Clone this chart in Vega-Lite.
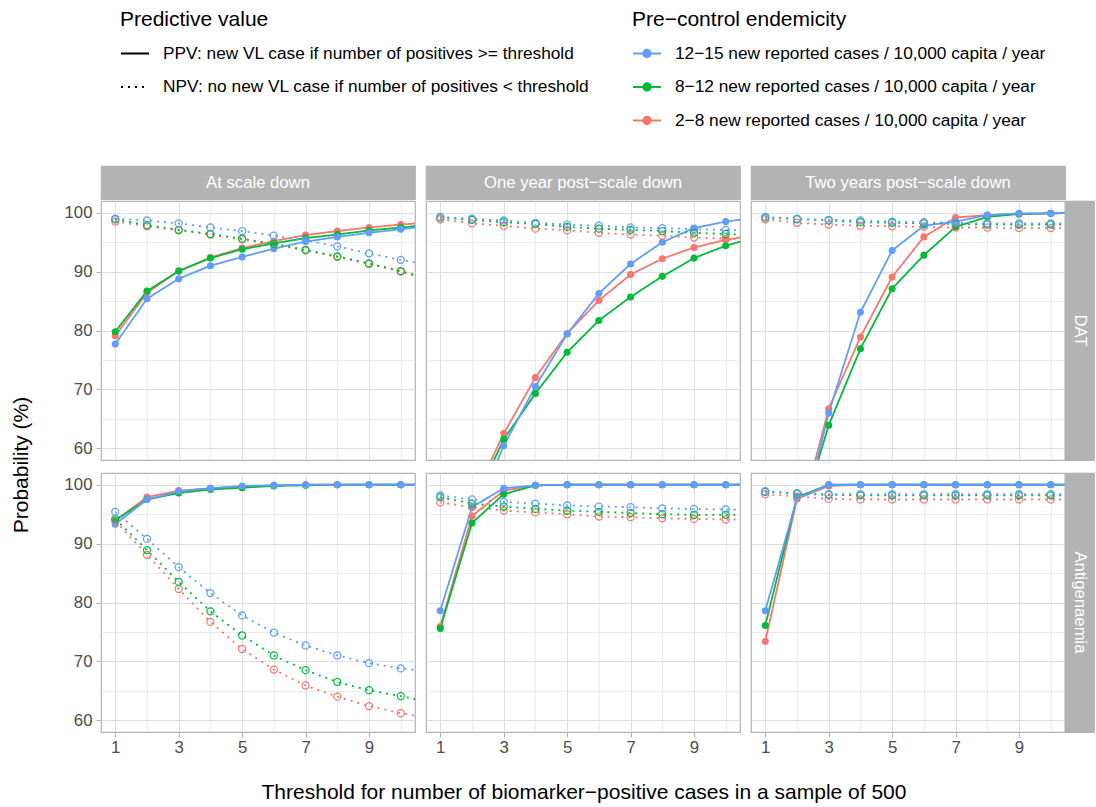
{
"$schema": "https://vega.github.io/schema/vega-lite/v6.json",
"padding": {"left": 11, "top": 9, "right": 0, "bottom": 0},
"datasets": {
"endem": [{"e":"a","E":"12−15 new reported cases / 10,000 capita / year"},{"e":"b","E":"8−12 new reported cases / 10,000 capita / year"},{"e":"c","E":"2−8 new reported cases / 10,000 capita / year"}],
"meas": [{"m":"P","M":"PPV: new VL case if number of positives >= threshold"},{"m":"N","M":"NPV: no new VL case if number of positives < threshold"}],
"strips": [{"k":"c1","s":"At scale down"},{"k":"c2","s":"One year post−scale down"},{"k":"c3","s":"Two years post−scale down"},{"k":"r1","s":"DAT"},{"k":"r2","s":"Antigenaemia"},{"k":"yt","s":"Probability (%)"},{"k":"xt","s":"Threshold for number of biomarker−positive cases in a sample of 500"}],
"main": [
{"r":"D","c":1,"e":"c","m":"P","t":1,"p":79.1},{"r":"D","c":1,"e":"c","m":"P","t":2,"p":86.4},{"r":"D","c":1,"e":"c","m":"P","t":3,"p":90.1},{"r":"D","c":1,"e":"c","m":"P","t":4,"p":92.4},{"r":"D","c":1,"e":"c","m":"P","t":5,"p":94.0},{"r":"D","c":1,"e":"c","m":"P","t":6,"p":95.2},{"r":"D","c":1,"e":"c","m":"P","t":7,"p":96.2},{"r":"D","c":1,"e":"c","m":"P","t":8,"p":96.9},{"r":"D","c":1,"e":"c","m":"P","t":9,"p":97.5},{"r":"D","c":1,"e":"c","m":"P","t":10,"p":98.0},{"r":"D","c":1,"e":"c","m":"P","t":11,"p":98.4},
{"r":"D","c":1,"e":"b","m":"P","t":1,"p":79.8},{"r":"D","c":1,"e":"b","m":"P","t":2,"p":86.7},{"r":"D","c":1,"e":"b","m":"P","t":3,"p":90.1},{"r":"D","c":1,"e":"b","m":"P","t":4,"p":92.3},{"r":"D","c":1,"e":"b","m":"P","t":5,"p":93.8},{"r":"D","c":1,"e":"b","m":"P","t":6,"p":94.8},{"r":"D","c":1,"e":"b","m":"P","t":7,"p":95.7},{"r":"D","c":1,"e":"b","m":"P","t":8,"p":96.3},{"r":"D","c":1,"e":"b","m":"P","t":9,"p":97.0},{"r":"D","c":1,"e":"b","m":"P","t":10,"p":97.5},{"r":"D","c":1,"e":"b","m":"P","t":11,"p":98.0},
{"r":"D","c":1,"e":"a","m":"P","t":1,"p":77.7},{"r":"D","c":1,"e":"a","m":"P","t":2,"p":85.4},{"r":"D","c":1,"e":"a","m":"P","t":3,"p":88.8},{"r":"D","c":1,"e":"a","m":"P","t":4,"p":91.0},{"r":"D","c":1,"e":"a","m":"P","t":5,"p":92.5},{"r":"D","c":1,"e":"a","m":"P","t":6,"p":93.9},{"r":"D","c":1,"e":"a","m":"P","t":7,"p":95.1},{"r":"D","c":1,"e":"a","m":"P","t":8,"p":95.9},{"r":"D","c":1,"e":"a","m":"P","t":9,"p":96.6},{"r":"D","c":1,"e":"a","m":"P","t":10,"p":97.2},{"r":"D","c":1,"e":"a","m":"P","t":11,"p":97.8},
{"r":"D","c":1,"e":"c","m":"N","t":1,"p":98.5},{"r":"D","c":1,"e":"c","m":"N","t":2,"p":97.7},{"r":"D","c":1,"e":"c","m":"N","t":3,"p":97.0},{"r":"D","c":1,"e":"c","m":"N","t":4,"p":96.3},{"r":"D","c":1,"e":"c","m":"N","t":5,"p":95.5},{"r":"D","c":1,"e":"c","m":"N","t":6,"p":94.6},{"r":"D","c":1,"e":"c","m":"N","t":7,"p":93.6},{"r":"D","c":1,"e":"c","m":"N","t":8,"p":92.5},{"r":"D","c":1,"e":"c","m":"N","t":9,"p":91.3},{"r":"D","c":1,"e":"c","m":"N","t":10,"p":90.0},{"r":"D","c":1,"e":"c","m":"N","t":11,"p":88.4},
{"r":"D","c":1,"e":"b","m":"N","t":1,"p":98.9},{"r":"D","c":1,"e":"b","m":"N","t":2,"p":97.9},{"r":"D","c":1,"e":"b","m":"N","t":3,"p":97.1},{"r":"D","c":1,"e":"b","m":"N","t":4,"p":96.4},{"r":"D","c":1,"e":"b","m":"N","t":5,"p":95.6},{"r":"D","c":1,"e":"b","m":"N","t":6,"p":94.7},{"r":"D","c":1,"e":"b","m":"N","t":7,"p":93.7},{"r":"D","c":1,"e":"b","m":"N","t":8,"p":92.6},{"r":"D","c":1,"e":"b","m":"N","t":9,"p":91.4},{"r":"D","c":1,"e":"b","m":"N","t":10,"p":90.1},{"r":"D","c":1,"e":"b","m":"N","t":11,"p":88.6},
{"r":"D","c":1,"e":"a","m":"N","t":1,"p":99.0},{"r":"D","c":1,"e":"a","m":"N","t":2,"p":98.7},{"r":"D","c":1,"e":"a","m":"N","t":3,"p":98.2},{"r":"D","c":1,"e":"a","m":"N","t":4,"p":97.5},{"r":"D","c":1,"e":"a","m":"N","t":5,"p":96.9},{"r":"D","c":1,"e":"a","m":"N","t":6,"p":96.1},{"r":"D","c":1,"e":"a","m":"N","t":7,"p":95.3},{"r":"D","c":1,"e":"a","m":"N","t":8,"p":94.3},{"r":"D","c":1,"e":"a","m":"N","t":9,"p":93.1},{"r":"D","c":1,"e":"a","m":"N","t":10,"p":92.0},{"r":"D","c":1,"e":"a","m":"N","t":11,"p":91.0},
{"r":"D","c":2,"e":"c","m":"P","t":1,"p":30},{"r":"D","c":2,"e":"c","m":"P","t":2,"p":51},{"r":"D","c":2,"e":"c","m":"P","t":3,"p":62.5},{"r":"D","c":2,"e":"c","m":"P","t":4,"p":72.0},{"r":"D","c":2,"e":"c","m":"P","t":5,"p":79.5},{"r":"D","c":2,"e":"c","m":"P","t":6,"p":85.1},{"r":"D","c":2,"e":"c","m":"P","t":7,"p":89.5},{"r":"D","c":2,"e":"c","m":"P","t":8,"p":92.2},{"r":"D","c":2,"e":"c","m":"P","t":9,"p":94.1},{"r":"D","c":2,"e":"c","m":"P","t":10,"p":95.4},{"r":"D","c":2,"e":"c","m":"P","t":11,"p":96.3},
{"r":"D","c":2,"e":"b","m":"P","t":1,"p":28},{"r":"D","c":2,"e":"b","m":"P","t":2,"p":50},{"r":"D","c":2,"e":"b","m":"P","t":3,"p":61.5},{"r":"D","c":2,"e":"b","m":"P","t":4,"p":69.3},{"r":"D","c":2,"e":"b","m":"P","t":5,"p":76.3},{"r":"D","c":2,"e":"b","m":"P","t":6,"p":81.7},{"r":"D","c":2,"e":"b","m":"P","t":7,"p":85.7},{"r":"D","c":2,"e":"b","m":"P","t":8,"p":89.2},{"r":"D","c":2,"e":"b","m":"P","t":9,"p":92.3},{"r":"D","c":2,"e":"b","m":"P","t":10,"p":94.4},{"r":"D","c":2,"e":"b","m":"P","t":11,"p":95.9},
{"r":"D","c":2,"e":"a","m":"P","t":1,"p":25},{"r":"D","c":2,"e":"a","m":"P","t":2,"p":48},{"r":"D","c":2,"e":"a","m":"P","t":3,"p":60.4},{"r":"D","c":2,"e":"a","m":"P","t":4,"p":70.5},{"r":"D","c":2,"e":"a","m":"P","t":5,"p":79.4},{"r":"D","c":2,"e":"a","m":"P","t":6,"p":86.3},{"r":"D","c":2,"e":"a","m":"P","t":7,"p":91.3},{"r":"D","c":2,"e":"a","m":"P","t":8,"p":95.0},{"r":"D","c":2,"e":"a","m":"P","t":9,"p":97.4},{"r":"D","c":2,"e":"a","m":"P","t":10,"p":98.5},{"r":"D","c":2,"e":"a","m":"P","t":11,"p":99.2},
{"r":"D","c":2,"e":"c","m":"N","t":1,"p":98.9},{"r":"D","c":2,"e":"c","m":"N","t":2,"p":98.2},{"r":"D","c":2,"e":"c","m":"N","t":3,"p":97.8},{"r":"D","c":2,"e":"c","m":"N","t":4,"p":97.3},{"r":"D","c":2,"e":"c","m":"N","t":5,"p":97.0},{"r":"D","c":2,"e":"c","m":"N","t":6,"p":96.6},{"r":"D","c":2,"e":"c","m":"N","t":7,"p":96.3},{"r":"D","c":2,"e":"c","m":"N","t":8,"p":96.1},{"r":"D","c":2,"e":"c","m":"N","t":9,"p":95.8},{"r":"D","c":2,"e":"c","m":"N","t":10,"p":95.6},{"r":"D","c":2,"e":"c","m":"N","t":11,"p":95.4},
{"r":"D","c":2,"e":"b","m":"N","t":1,"p":99.2},{"r":"D","c":2,"e":"b","m":"N","t":2,"p":98.8},{"r":"D","c":2,"e":"b","m":"N","t":3,"p":98.4},{"r":"D","c":2,"e":"b","m":"N","t":4,"p":98.1},{"r":"D","c":2,"e":"b","m":"N","t":5,"p":97.6},{"r":"D","c":2,"e":"b","m":"N","t":6,"p":97.3},{"r":"D","c":2,"e":"b","m":"N","t":7,"p":97.1},{"r":"D","c":2,"e":"b","m":"N","t":8,"p":96.9},{"r":"D","c":2,"e":"b","m":"N","t":9,"p":96.6},{"r":"D","c":2,"e":"b","m":"N","t":10,"p":96.4},{"r":"D","c":2,"e":"b","m":"N","t":11,"p":96.2},
{"r":"D","c":2,"e":"a","m":"N","t":1,"p":99.3},{"r":"D","c":2,"e":"a","m":"N","t":2,"p":99.0},{"r":"D","c":2,"e":"a","m":"N","t":3,"p":98.7},{"r":"D","c":2,"e":"a","m":"N","t":4,"p":98.3},{"r":"D","c":2,"e":"a","m":"N","t":5,"p":98.0},{"r":"D","c":2,"e":"a","m":"N","t":6,"p":97.8},{"r":"D","c":2,"e":"a","m":"N","t":7,"p":97.5},{"r":"D","c":2,"e":"a","m":"N","t":8,"p":97.4},{"r":"D","c":2,"e":"a","m":"N","t":9,"p":97.2},{"r":"D","c":2,"e":"a","m":"N","t":10,"p":97.1},{"r":"D","c":2,"e":"a","m":"N","t":11,"p":96.9},
{"r":"D","c":3,"e":"c","m":"P","t":1,"p":22},{"r":"D","c":3,"e":"c","m":"P","t":2,"p":46},{"r":"D","c":3,"e":"c","m":"P","t":3,"p":66.7},{"r":"D","c":3,"e":"c","m":"P","t":4,"p":78.9},{"r":"D","c":3,"e":"c","m":"P","t":5,"p":89.1},{"r":"D","c":3,"e":"c","m":"P","t":6,"p":95.9},{"r":"D","c":3,"e":"c","m":"P","t":7,"p":99.2},{"r":"D","c":3,"e":"c","m":"P","t":8,"p":99.6},{"r":"D","c":3,"e":"c","m":"P","t":9,"p":99.8},{"r":"D","c":3,"e":"c","m":"P","t":10,"p":99.9},{"r":"D","c":3,"e":"c","m":"P","t":11,"p":100},
{"r":"D","c":3,"e":"b","m":"P","t":1,"p":22},{"r":"D","c":3,"e":"b","m":"P","t":2,"p":46},{"r":"D","c":3,"e":"b","m":"P","t":3,"p":63.9},{"r":"D","c":3,"e":"b","m":"P","t":4,"p":76.9},{"r":"D","c":3,"e":"b","m":"P","t":5,"p":87.1},{"r":"D","c":3,"e":"b","m":"P","t":6,"p":92.8},{"r":"D","c":3,"e":"b","m":"P","t":7,"p":97.6},{"r":"D","c":3,"e":"b","m":"P","t":8,"p":99.3},{"r":"D","c":3,"e":"b","m":"P","t":9,"p":99.8},{"r":"D","c":3,"e":"b","m":"P","t":10,"p":99.9},{"r":"D","c":3,"e":"b","m":"P","t":11,"p":100},
{"r":"D","c":3,"e":"a","m":"P","t":1,"p":20},{"r":"D","c":3,"e":"a","m":"P","t":2,"p":44},{"r":"D","c":3,"e":"a","m":"P","t":3,"p":66.0},{"r":"D","c":3,"e":"a","m":"P","t":4,"p":83.1},{"r":"D","c":3,"e":"a","m":"P","t":5,"p":93.6},{"r":"D","c":3,"e":"a","m":"P","t":6,"p":97.8},{"r":"D","c":3,"e":"a","m":"P","t":7,"p":98.5},{"r":"D","c":3,"e":"a","m":"P","t":8,"p":99.6},{"r":"D","c":3,"e":"a","m":"P","t":9,"p":99.9},{"r":"D","c":3,"e":"a","m":"P","t":10,"p":99.9},{"r":"D","c":3,"e":"a","m":"P","t":11,"p":100},
{"r":"D","c":3,"e":"c","m":"N","t":1,"p":98.9},{"r":"D","c":3,"e":"c","m":"N","t":2,"p":98.3},{"r":"D","c":3,"e":"c","m":"N","t":3,"p":98.0},{"r":"D","c":3,"e":"c","m":"N","t":4,"p":97.8},{"r":"D","c":3,"e":"c","m":"N","t":5,"p":97.7},{"r":"D","c":3,"e":"c","m":"N","t":6,"p":97.6},{"r":"D","c":3,"e":"c","m":"N","t":7,"p":97.5},{"r":"D","c":3,"e":"c","m":"N","t":8,"p":97.5},{"r":"D","c":3,"e":"c","m":"N","t":9,"p":97.4},{"r":"D","c":3,"e":"c","m":"N","t":10,"p":97.4},{"r":"D","c":3,"e":"c","m":"N","t":11,"p":97.4},
{"r":"D","c":3,"e":"b","m":"N","t":1,"p":99.2},{"r":"D","c":3,"e":"b","m":"N","t":2,"p":98.9},{"r":"D","c":3,"e":"b","m":"N","t":3,"p":98.7},{"r":"D","c":3,"e":"b","m":"N","t":4,"p":98.4},{"r":"D","c":3,"e":"b","m":"N","t":5,"p":98.3},{"r":"D","c":3,"e":"b","m":"N","t":6,"p":98.2},{"r":"D","c":3,"e":"b","m":"N","t":7,"p":98.1},{"r":"D","c":3,"e":"b","m":"N","t":8,"p":98.0},{"r":"D","c":3,"e":"b","m":"N","t":9,"p":98.0},{"r":"D","c":3,"e":"b","m":"N","t":10,"p":98.0},{"r":"D","c":3,"e":"b","m":"N","t":11,"p":98.0},
{"r":"D","c":3,"e":"a","m":"N","t":1,"p":99.3},{"r":"D","c":3,"e":"a","m":"N","t":2,"p":99.0},{"r":"D","c":3,"e":"a","m":"N","t":3,"p":98.8},{"r":"D","c":3,"e":"a","m":"N","t":4,"p":98.7},{"r":"D","c":3,"e":"a","m":"N","t":5,"p":98.5},{"r":"D","c":3,"e":"a","m":"N","t":6,"p":98.4},{"r":"D","c":3,"e":"a","m":"N","t":7,"p":98.3},{"r":"D","c":3,"e":"a","m":"N","t":8,"p":98.2},{"r":"D","c":3,"e":"a","m":"N","t":9,"p":98.2},{"r":"D","c":3,"e":"a","m":"N","t":10,"p":98.2},{"r":"D","c":3,"e":"a","m":"N","t":11,"p":98.2},
{"r":"A","c":1,"e":"c","m":"P","t":1,"p":93.9},{"r":"A","c":1,"e":"c","m":"P","t":2,"p":97.9},{"r":"A","c":1,"e":"c","m":"P","t":3,"p":99.0},{"r":"A","c":1,"e":"c","m":"P","t":4,"p":99.4},{"r":"A","c":1,"e":"c","m":"P","t":5,"p":99.7},{"r":"A","c":1,"e":"c","m":"P","t":6,"p":99.9},{"r":"A","c":1,"e":"c","m":"P","t":7,"p":100},{"r":"A","c":1,"e":"c","m":"P","t":8,"p":100},{"r":"A","c":1,"e":"c","m":"P","t":9,"p":100},{"r":"A","c":1,"e":"c","m":"P","t":10,"p":100},{"r":"A","c":1,"e":"c","m":"P","t":11,"p":100},
{"r":"A","c":1,"e":"b","m":"P","t":1,"p":94.0},{"r":"A","c":1,"e":"b","m":"P","t":2,"p":97.5},{"r":"A","c":1,"e":"b","m":"P","t":3,"p":98.6},{"r":"A","c":1,"e":"b","m":"P","t":4,"p":99.2},{"r":"A","c":1,"e":"b","m":"P","t":5,"p":99.5},{"r":"A","c":1,"e":"b","m":"P","t":6,"p":99.8},{"r":"A","c":1,"e":"b","m":"P","t":7,"p":99.9},{"r":"A","c":1,"e":"b","m":"P","t":8,"p":100},{"r":"A","c":1,"e":"b","m":"P","t":9,"p":100},{"r":"A","c":1,"e":"b","m":"P","t":10,"p":100},{"r":"A","c":1,"e":"b","m":"P","t":11,"p":100},
{"r":"A","c":1,"e":"a","m":"P","t":1,"p":93.3},{"r":"A","c":1,"e":"a","m":"P","t":2,"p":97.5},{"r":"A","c":1,"e":"a","m":"P","t":3,"p":98.9},{"r":"A","c":1,"e":"a","m":"P","t":4,"p":99.4},{"r":"A","c":1,"e":"a","m":"P","t":5,"p":99.8},{"r":"A","c":1,"e":"a","m":"P","t":6,"p":99.9},{"r":"A","c":1,"e":"a","m":"P","t":7,"p":100},{"r":"A","c":1,"e":"a","m":"P","t":8,"p":100},{"r":"A","c":1,"e":"a","m":"P","t":9,"p":100},{"r":"A","c":1,"e":"a","m":"P","t":10,"p":100},{"r":"A","c":1,"e":"a","m":"P","t":11,"p":100},
{"r":"A","c":1,"e":"c","m":"N","t":1,"p":93.8},{"r":"A","c":1,"e":"c","m":"N","t":2,"p":88.1},{"r":"A","c":1,"e":"c","m":"N","t":3,"p":82.3},{"r":"A","c":1,"e":"c","m":"N","t":4,"p":76.7},{"r":"A","c":1,"e":"c","m":"N","t":5,"p":72.1},{"r":"A","c":1,"e":"c","m":"N","t":6,"p":68.6},{"r":"A","c":1,"e":"c","m":"N","t":7,"p":65.9},{"r":"A","c":1,"e":"c","m":"N","t":8,"p":64.0},{"r":"A","c":1,"e":"c","m":"N","t":9,"p":62.4},{"r":"A","c":1,"e":"c","m":"N","t":10,"p":61.2},{"r":"A","c":1,"e":"c","m":"N","t":11,"p":60.3},
{"r":"A","c":1,"e":"b","m":"N","t":1,"p":94.2},{"r":"A","c":1,"e":"b","m":"N","t":2,"p":88.9},{"r":"A","c":1,"e":"b","m":"N","t":3,"p":83.5},{"r":"A","c":1,"e":"b","m":"N","t":4,"p":78.5},{"r":"A","c":1,"e":"b","m":"N","t":5,"p":74.4},{"r":"A","c":1,"e":"b","m":"N","t":6,"p":71.0},{"r":"A","c":1,"e":"b","m":"N","t":7,"p":68.5},{"r":"A","c":1,"e":"b","m":"N","t":8,"p":66.5},{"r":"A","c":1,"e":"b","m":"N","t":9,"p":65.1},{"r":"A","c":1,"e":"b","m":"N","t":10,"p":64.1},{"r":"A","c":1,"e":"b","m":"N","t":11,"p":63.0},
{"r":"A","c":1,"e":"a","m":"N","t":1,"p":95.4},{"r":"A","c":1,"e":"a","m":"N","t":2,"p":90.8},{"r":"A","c":1,"e":"a","m":"N","t":3,"p":86.0},{"r":"A","c":1,"e":"a","m":"N","t":4,"p":81.6},{"r":"A","c":1,"e":"a","m":"N","t":5,"p":77.8},{"r":"A","c":1,"e":"a","m":"N","t":6,"p":74.9},{"r":"A","c":1,"e":"a","m":"N","t":7,"p":72.7},{"r":"A","c":1,"e":"a","m":"N","t":8,"p":71.0},{"r":"A","c":1,"e":"a","m":"N","t":9,"p":69.7},{"r":"A","c":1,"e":"a","m":"N","t":10,"p":68.8},{"r":"A","c":1,"e":"a","m":"N","t":11,"p":68.3},
{"r":"A","c":2,"e":"c","m":"P","t":1,"p":75.9},{"r":"A","c":2,"e":"c","m":"P","t":2,"p":94.7},{"r":"A","c":2,"e":"c","m":"P","t":3,"p":99.0},{"r":"A","c":2,"e":"c","m":"P","t":4,"p":99.9},{"r":"A","c":2,"e":"c","m":"P","t":5,"p":100},{"r":"A","c":2,"e":"c","m":"P","t":6,"p":100},{"r":"A","c":2,"e":"c","m":"P","t":7,"p":100},{"r":"A","c":2,"e":"c","m":"P","t":8,"p":100},{"r":"A","c":2,"e":"c","m":"P","t":9,"p":100},{"r":"A","c":2,"e":"c","m":"P","t":10,"p":100},{"r":"A","c":2,"e":"c","m":"P","t":11,"p":100},
{"r":"A","c":2,"e":"b","m":"P","t":1,"p":75.6},{"r":"A","c":2,"e":"b","m":"P","t":2,"p":93.5},{"r":"A","c":2,"e":"b","m":"P","t":3,"p":98.4},{"r":"A","c":2,"e":"b","m":"P","t":4,"p":99.9},{"r":"A","c":2,"e":"b","m":"P","t":5,"p":100},{"r":"A","c":2,"e":"b","m":"P","t":6,"p":100},{"r":"A","c":2,"e":"b","m":"P","t":7,"p":100},{"r":"A","c":2,"e":"b","m":"P","t":8,"p":100},{"r":"A","c":2,"e":"b","m":"P","t":9,"p":100},{"r":"A","c":2,"e":"b","m":"P","t":10,"p":100},{"r":"A","c":2,"e":"b","m":"P","t":11,"p":100},
{"r":"A","c":2,"e":"a","m":"P","t":1,"p":78.6},{"r":"A","c":2,"e":"a","m":"P","t":2,"p":96.2},{"r":"A","c":2,"e":"a","m":"P","t":3,"p":99.4},{"r":"A","c":2,"e":"a","m":"P","t":4,"p":99.9},{"r":"A","c":2,"e":"a","m":"P","t":5,"p":100},{"r":"A","c":2,"e":"a","m":"P","t":6,"p":100},{"r":"A","c":2,"e":"a","m":"P","t":7,"p":100},{"r":"A","c":2,"e":"a","m":"P","t":8,"p":100},{"r":"A","c":2,"e":"a","m":"P","t":9,"p":100},{"r":"A","c":2,"e":"a","m":"P","t":10,"p":100},{"r":"A","c":2,"e":"a","m":"P","t":11,"p":100},
{"r":"A","c":2,"e":"c","m":"N","t":1,"p":97.0},{"r":"A","c":2,"e":"c","m":"N","t":2,"p":96.2},{"r":"A","c":2,"e":"c","m":"N","t":3,"p":95.6},{"r":"A","c":2,"e":"c","m":"N","t":4,"p":95.3},{"r":"A","c":2,"e":"c","m":"N","t":5,"p":95.0},{"r":"A","c":2,"e":"c","m":"N","t":6,"p":94.6},{"r":"A","c":2,"e":"c","m":"N","t":7,"p":94.5},{"r":"A","c":2,"e":"c","m":"N","t":8,"p":94.3},{"r":"A","c":2,"e":"c","m":"N","t":9,"p":94.2},{"r":"A","c":2,"e":"c","m":"N","t":10,"p":94.1},{"r":"A","c":2,"e":"c","m":"N","t":11,"p":94.0},
{"r":"A","c":2,"e":"b","m":"N","t":1,"p":97.9},{"r":"A","c":2,"e":"b","m":"N","t":2,"p":96.8},{"r":"A","c":2,"e":"b","m":"N","t":3,"p":96.3},{"r":"A","c":2,"e":"b","m":"N","t":4,"p":95.9},{"r":"A","c":2,"e":"b","m":"N","t":5,"p":95.6},{"r":"A","c":2,"e":"b","m":"N","t":6,"p":95.4},{"r":"A","c":2,"e":"b","m":"N","t":7,"p":95.2},{"r":"A","c":2,"e":"b","m":"N","t":8,"p":95.0},{"r":"A","c":2,"e":"b","m":"N","t":9,"p":94.9},{"r":"A","c":2,"e":"b","m":"N","t":10,"p":94.9},{"r":"A","c":2,"e":"b","m":"N","t":11,"p":94.8},
{"r":"A","c":2,"e":"a","m":"N","t":1,"p":98.2},{"r":"A","c":2,"e":"a","m":"N","t":2,"p":97.5},{"r":"A","c":2,"e":"a","m":"N","t":3,"p":97.1},{"r":"A","c":2,"e":"a","m":"N","t":4,"p":96.8},{"r":"A","c":2,"e":"a","m":"N","t":5,"p":96.5},{"r":"A","c":2,"e":"a","m":"N","t":6,"p":96.3},{"r":"A","c":2,"e":"a","m":"N","t":7,"p":96.2},{"r":"A","c":2,"e":"a","m":"N","t":8,"p":96.0},{"r":"A","c":2,"e":"a","m":"N","t":9,"p":95.9},{"r":"A","c":2,"e":"a","m":"N","t":10,"p":95.8},{"r":"A","c":2,"e":"a","m":"N","t":11,"p":95.7},
{"r":"A","c":3,"e":"c","m":"P","t":1,"p":73.4},{"r":"A","c":3,"e":"c","m":"P","t":2,"p":97.6},{"r":"A","c":3,"e":"c","m":"P","t":3,"p":99.8},{"r":"A","c":3,"e":"c","m":"P","t":4,"p":100},{"r":"A","c":3,"e":"c","m":"P","t":5,"p":100},{"r":"A","c":3,"e":"c","m":"P","t":6,"p":100},{"r":"A","c":3,"e":"c","m":"P","t":7,"p":100},{"r":"A","c":3,"e":"c","m":"P","t":8,"p":100},{"r":"A","c":3,"e":"c","m":"P","t":9,"p":100},{"r":"A","c":3,"e":"c","m":"P","t":10,"p":100},{"r":"A","c":3,"e":"c","m":"P","t":11,"p":100},
{"r":"A","c":3,"e":"b","m":"P","t":1,"p":76.1},{"r":"A","c":3,"e":"b","m":"P","t":2,"p":97.9},{"r":"A","c":3,"e":"b","m":"P","t":3,"p":100},{"r":"A","c":3,"e":"b","m":"P","t":4,"p":100},{"r":"A","c":3,"e":"b","m":"P","t":5,"p":100},{"r":"A","c":3,"e":"b","m":"P","t":6,"p":100},{"r":"A","c":3,"e":"b","m":"P","t":7,"p":100},{"r":"A","c":3,"e":"b","m":"P","t":8,"p":100},{"r":"A","c":3,"e":"b","m":"P","t":9,"p":100},{"r":"A","c":3,"e":"b","m":"P","t":10,"p":100},{"r":"A","c":3,"e":"b","m":"P","t":11,"p":100},
{"r":"A","c":3,"e":"a","m":"P","t":1,"p":78.6},{"r":"A","c":3,"e":"a","m":"P","t":2,"p":97.7},{"r":"A","c":3,"e":"a","m":"P","t":3,"p":100},{"r":"A","c":3,"e":"a","m":"P","t":4,"p":100},{"r":"A","c":3,"e":"a","m":"P","t":5,"p":100},{"r":"A","c":3,"e":"a","m":"P","t":6,"p":100},{"r":"A","c":3,"e":"a","m":"P","t":7,"p":100},{"r":"A","c":3,"e":"a","m":"P","t":8,"p":100},{"r":"A","c":3,"e":"a","m":"P","t":9,"p":100},{"r":"A","c":3,"e":"a","m":"P","t":10,"p":100},{"r":"A","c":3,"e":"a","m":"P","t":11,"p":100},
{"r":"A","c":3,"e":"c","m":"N","t":1,"p":98.4},{"r":"A","c":3,"e":"c","m":"N","t":2,"p":98.0},{"r":"A","c":3,"e":"c","m":"N","t":3,"p":97.6},{"r":"A","c":3,"e":"c","m":"N","t":4,"p":97.5},{"r":"A","c":3,"e":"c","m":"N","t":5,"p":97.5},{"r":"A","c":3,"e":"c","m":"N","t":6,"p":97.5},{"r":"A","c":3,"e":"c","m":"N","t":7,"p":97.5},{"r":"A","c":3,"e":"c","m":"N","t":8,"p":97.5},{"r":"A","c":3,"e":"c","m":"N","t":9,"p":97.5},{"r":"A","c":3,"e":"c","m":"N","t":10,"p":97.5},{"r":"A","c":3,"e":"c","m":"N","t":11,"p":97.5},
{"r":"A","c":3,"e":"b","m":"N","t":1,"p":98.8},{"r":"A","c":3,"e":"b","m":"N","t":2,"p":98.5},{"r":"A","c":3,"e":"b","m":"N","t":3,"p":98.3},{"r":"A","c":3,"e":"b","m":"N","t":4,"p":98.2},{"r":"A","c":3,"e":"b","m":"N","t":5,"p":98.2},{"r":"A","c":3,"e":"b","m":"N","t":6,"p":98.2},{"r":"A","c":3,"e":"b","m":"N","t":7,"p":98.2},{"r":"A","c":3,"e":"b","m":"N","t":8,"p":98.2},{"r":"A","c":3,"e":"b","m":"N","t":9,"p":98.2},{"r":"A","c":3,"e":"b","m":"N","t":10,"p":98.2},{"r":"A","c":3,"e":"b","m":"N","t":11,"p":98.2},
{"r":"A","c":3,"e":"a","m":"N","t":1,"p":98.9},{"r":"A","c":3,"e":"a","m":"N","t":2,"p":98.6},{"r":"A","c":3,"e":"a","m":"N","t":3,"p":98.4},{"r":"A","c":3,"e":"a","m":"N","t":4,"p":98.4},{"r":"A","c":3,"e":"a","m":"N","t":5,"p":98.4},{"r":"A","c":3,"e":"a","m":"N","t":6,"p":98.4},{"r":"A","c":3,"e":"a","m":"N","t":7,"p":98.4},{"r":"A","c":3,"e":"a","m":"N","t":8,"p":98.4},{"r":"A","c":3,"e":"a","m":"N","t":9,"p":98.4},{"r":"A","c":3,"e":"a","m":"N","t":10,"p":98.4},{"r":"A","c":3,"e":"a","m":"N","t":11,"p":98.4}
]
},
"data": {"name": "main"},
"spacing": 30,
"hconcat": [
{"data": {"name": "strips"}, "transform": [{"filter": "datum.k === 'yt'"}], "width": 22, "height": 598, "view": {"stroke": null}, "mark": {"type": "text", "color": "black", "fontSize": 21, "font": "Liberation Sans", "angle": 270}, "encoding": {"text": {"field": "s"}}},
{"spacing": 0,
"vconcat": [
{"hconcat": [
 {"data": {"name": "strips"}, "transform": [{"filter": "datum.k === 'c1'"}], "width": 314, "height": 33, "view": {"fill": "#B3B3B3", "stroke": "#B3B3B3", "strokeWidth": 1.2}, "mark": {"type": "text", "color": "white", "fontSize": 16.7, "font": "Liberation Sans"}, "encoding": {"text": {"field": "s"}}},
 {"data": {"name": "strips"}, "transform": [{"filter": "datum.k === 'c2'"}], "width": 314, "height": 33, "view": {"fill": "#B3B3B3", "stroke": "#B3B3B3", "strokeWidth": 1.2}, "mark": {"type": "text", "color": "white", "fontSize": 16.7, "font": "Liberation Sans"}, "encoding": {"text": {"field": "s"}}},
 {"data": {"name": "strips"}, "transform": [{"filter": "datum.k === 'c3'"}], "width": 314, "height": 33, "view": {"fill": "#B3B3B3", "stroke": "#B3B3B3", "strokeWidth": 1.2}, "mark": {"type": "text", "color": "white", "fontSize": 16.7, "font": "Liberation Sans"}, "encoding": {"text": {"field": "s"}}}
], "spacing": 11, "bounds": "flush"},
{"vconcat": [
 {"hconcat": [
  {"width": 314, "height": 259,
   "transform": [{"filter": "datum.r === 'D' && datum.c === 1"},{"lookup": "e", "from": {"data": {"name": "endem"}, "key": "e", "fields": ["E"]}},{"lookup": "m", "from": {"data": {"name": "meas"}, "key": "m", "fields": ["M"]}}],
   "encoding": {
    "x": {"field": "t", "type": "quantitative", "scale": {"domain": [0.55, 10.45], "nice": false, "zero": false}, "axis": {"values": [1,2,3,4,5,6,7,8,9,10], "labels": false, "ticks": false, "title": null, "gridWidth": {"condition": {"test": "datum.value % 2 === 1", "value": 1}, "value": 0.6}}},
    "y": {"field": "p", "type": "quantitative", "scale": {"domain": [58, 102], "nice": false, "zero": false}, "axis": {"values": [60,65,70,75,80,85,90,95,100], "title": null, "labelExpr": "datum.value % 10 === 0 ? datum.label : ''", "labelOverlap": false, "tickOpacity": {"condition": {"test": "datum.value % 10 === 0", "value": 1}, "value": 0}, "gridWidth": {"condition": {"test": "datum.value % 10 === 0", "value": 1}, "value": 0.6}}},
    "color": {"field": "E", "type": "nominal", "scale": {"domain": ["12−15 new reported cases / 10,000 capita / year","8−12 new reported cases / 10,000 capita / year","2−8 new reported cases / 10,000 capita / year"], "range": ["#619CFF","#00BA38","#F8766D"]}, "legend": {"title": "Pre−control endemicity", "orient": "none", "legendX": 621, "legendY": -157, "direction": "vertical", "symbolType": "M-1,0H1M0.27,0A0.27,0.27,0,1,1,-0.27,0A0.27,0.27,0,1,1,0.27,0", "encode": {"symbols": {"update": {"fill": {"scale": "color", "field": "value"}}}}}}
   },
   "layer": [
    {"mark": {"type": "line", "clip": true, "strokeWidth": 1.8}, "encoding": {"strokeDash": {"field": "M", "type": "nominal", "scale": {"domain": ["PPV: new VL case if number of positives >= threshold","NPV: no new VL case if number of positives < threshold"], "range": [[1,0],[2,5]]}, "legend": {"title": "Predictive value", "orient": "none", "legendX": 109, "legendY": -157, "direction": "vertical", "symbolType": "stroke", "symbolStrokeColor": "black"}}}},
    {"transform": [{"filter": "datum.m === 'P'"}], "mark": {"type": "point", "filled": true, "clip": true, "size": 50, "opacity": 1}},
    {"transform": [{"filter": "datum.m === 'N'"}], "mark": {"type": "point", "filled": false, "clip": true, "size": 50, "strokeWidth": 1.2, "opacity": 1}}
   ]},
  {"width": 314, "height": 259,
   "transform": [{"filter": "datum.r === 'D' && datum.c === 2"},{"lookup": "e", "from": {"data": {"name": "endem"}, "key": "e", "fields": ["E"]}},{"lookup": "m", "from": {"data": {"name": "meas"}, "key": "m", "fields": ["M"]}}],
   "encoding": {
    "x": {"field": "t", "type": "quantitative", "scale": {"domain": [0.55, 10.45], "nice": false, "zero": false}, "axis": {"values": [1,2,3,4,5,6,7,8,9,10], "labels": false, "ticks": false, "title": null, "gridWidth": {"condition": {"test": "datum.value % 2 === 1", "value": 1}, "value": 0.6}}},
    "y": {"field": "p", "type": "quantitative", "scale": {"domain": [58, 102], "nice": false, "zero": false}, "axis": {"values": [60,65,70,75,80,85,90,95,100], "title": null, "labels": false, "ticks": false, "gridWidth": {"condition": {"test": "datum.value % 10 === 0", "value": 1}, "value": 0.6}}},
    "color": {"field": "E", "type": "nominal", "scale": {"domain": ["12−15 new reported cases / 10,000 capita / year","8−12 new reported cases / 10,000 capita / year","2−8 new reported cases / 10,000 capita / year"], "range": ["#619CFF","#00BA38","#F8766D"]}, "legend": {"title": "Pre−control endemicity", "orient": "none", "legendX": 621, "legendY": -157, "direction": "vertical", "symbolType": "M-1,0H1M0.27,0A0.27,0.27,0,1,1,-0.27,0A0.27,0.27,0,1,1,0.27,0", "encode": {"symbols": {"update": {"fill": {"scale": "color", "field": "value"}}}}}}
   },
   "layer": [
    {"mark": {"type": "line", "clip": true, "strokeWidth": 1.8}, "encoding": {"strokeDash": {"field": "M", "type": "nominal", "scale": {"domain": ["PPV: new VL case if number of positives >= threshold","NPV: no new VL case if number of positives < threshold"], "range": [[1,0],[2,5]]}, "legend": {"title": "Predictive value", "orient": "none", "legendX": 109, "legendY": -157, "direction": "vertical", "symbolType": "stroke", "symbolStrokeColor": "black"}}}},
    {"transform": [{"filter": "datum.m === 'P'"}], "mark": {"type": "point", "filled": true, "clip": true, "size": 50, "opacity": 1}},
    {"transform": [{"filter": "datum.m === 'N'"}], "mark": {"type": "point", "filled": false, "clip": true, "size": 50, "strokeWidth": 1.2, "opacity": 1}}
   ]},
  {"hconcat": [
   {"width": 314, "height": 259,
    "transform": [{"filter": "datum.r === 'D' && datum.c === 3"},{"lookup": "e", "from": {"data": {"name": "endem"}, "key": "e", "fields": ["E"]}},{"lookup": "m", "from": {"data": {"name": "meas"}, "key": "m", "fields": ["M"]}}],
    "encoding": {
     "x": {"field": "t", "type": "quantitative", "scale": {"domain": [0.55, 10.45], "nice": false, "zero": false}, "axis": {"values": [1,2,3,4,5,6,7,8,9,10], "labels": false, "ticks": false, "title": null, "gridWidth": {"condition": {"test": "datum.value % 2 === 1", "value": 1}, "value": 0.6}}},
     "y": {"field": "p", "type": "quantitative", "scale": {"domain": [58, 102], "nice": false, "zero": false}, "axis": {"values": [60,65,70,75,80,85,90,95,100], "title": null, "labels": false, "ticks": false, "gridWidth": {"condition": {"test": "datum.value % 10 === 0", "value": 1}, "value": 0.6}}},
     "color": {"field": "E", "type": "nominal", "scale": {"domain": ["12−15 new reported cases / 10,000 capita / year","8−12 new reported cases / 10,000 capita / year","2−8 new reported cases / 10,000 capita / year"], "range": ["#619CFF","#00BA38","#F8766D"]}, "legend": {"title": "Pre−control endemicity", "orient": "none", "legendX": 621, "legendY": -157, "direction": "vertical", "symbolType": "M-1,0H1M0.27,0A0.27,0.27,0,1,1,-0.27,0A0.27,0.27,0,1,1,0.27,0", "encode": {"symbols": {"update": {"fill": {"scale": "color", "field": "value"}}}}}}
    },
    "layer": [
     {"mark": {"type": "line", "clip": true, "strokeWidth": 1.8}, "encoding": {"strokeDash": {"field": "M", "type": "nominal", "scale": {"domain": ["PPV: new VL case if number of positives >= threshold","NPV: no new VL case if number of positives < threshold"], "range": [[1,0],[2,5]]}, "legend": {"title": "Predictive value", "orient": "none", "legendX": 109, "legendY": -157, "direction": "vertical", "symbolType": "stroke", "symbolStrokeColor": "black"}}}},
     {"transform": [{"filter": "datum.m === 'P'"}], "mark": {"type": "point", "filled": true, "clip": true, "size": 50, "opacity": 1}},
     {"transform": [{"filter": "datum.m === 'N'"}], "mark": {"type": "point", "filled": false, "clip": true, "size": 50, "strokeWidth": 1.2, "opacity": 1}}
    ]},
   {"data": {"name": "strips"}, "transform": [{"filter": "datum.k === 'r1'"}], "width": 29, "height": 259, "view": {"fill": "#B3B3B3", "stroke": "#B3B3B3", "strokeWidth": 1.2}, "mark": {"type": "text", "color": "white", "fontSize": 16.7, "font": "Liberation Sans", "angle": 90}, "encoding": {"text": {"field": "s"}}}
  ], "spacing": 0, "bounds": "flush"}
 ], "spacing": 11, "bounds": "flush"},
 {"hconcat": [
  {"width": 314, "height": 259,
   "transform": [{"filter": "datum.r === 'A' && datum.c === 1"},{"lookup": "e", "from": {"data": {"name": "endem"}, "key": "e", "fields": ["E"]}},{"lookup": "m", "from": {"data": {"name": "meas"}, "key": "m", "fields": ["M"]}}],
   "encoding": {
    "x": {"field": "t", "type": "quantitative", "scale": {"domain": [0.55, 10.45], "nice": false, "zero": false}, "axis": {"values": [1,2,3,4,5,6,7,8,9,10], "title": null, "labelExpr": "datum.value % 2 === 1 ? datum.label : ''", "labelOverlap": false, "tickOpacity": {"condition": {"test": "datum.value % 2 === 1", "value": 1}, "value": 0}, "gridWidth": {"condition": {"test": "datum.value % 2 === 1", "value": 1}, "value": 0.6}}},
    "y": {"field": "p", "type": "quantitative", "scale": {"domain": [58, 102], "nice": false, "zero": false}, "axis": {"values": [60,65,70,75,80,85,90,95,100], "title": null, "labelExpr": "datum.value % 10 === 0 ? datum.label : ''", "labelOverlap": false, "tickOpacity": {"condition": {"test": "datum.value % 10 === 0", "value": 1}, "value": 0}, "gridWidth": {"condition": {"test": "datum.value % 10 === 0", "value": 1}, "value": 0.6}}},
    "color": {"field": "E", "type": "nominal", "scale": {"domain": ["12−15 new reported cases / 10,000 capita / year","8−12 new reported cases / 10,000 capita / year","2−8 new reported cases / 10,000 capita / year"], "range": ["#619CFF","#00BA38","#F8766D"]}, "legend": {"title": "Pre−control endemicity", "orient": "none", "legendX": 621, "legendY": -157, "direction": "vertical", "symbolType": "M-1,0H1M0.27,0A0.27,0.27,0,1,1,-0.27,0A0.27,0.27,0,1,1,0.27,0", "encode": {"symbols": {"update": {"fill": {"scale": "color", "field": "value"}}}}}}
   },
   "layer": [
    {"mark": {"type": "line", "clip": true, "strokeWidth": 1.8}, "encoding": {"strokeDash": {"field": "M", "type": "nominal", "scale": {"domain": ["PPV: new VL case if number of positives >= threshold","NPV: no new VL case if number of positives < threshold"], "range": [[1,0],[2,5]]}, "legend": {"title": "Predictive value", "orient": "none", "legendX": 109, "legendY": -157, "direction": "vertical", "symbolType": "stroke", "symbolStrokeColor": "black"}}}},
    {"transform": [{"filter": "datum.m === 'P'"}], "mark": {"type": "point", "filled": true, "clip": true, "size": 50, "opacity": 1}},
    {"transform": [{"filter": "datum.m === 'N'"}], "mark": {"type": "point", "filled": false, "clip": true, "size": 50, "strokeWidth": 1.2, "opacity": 1}}
   ]},
  {"width": 314, "height": 259,
   "transform": [{"filter": "datum.r === 'A' && datum.c === 2"},{"lookup": "e", "from": {"data": {"name": "endem"}, "key": "e", "fields": ["E"]}},{"lookup": "m", "from": {"data": {"name": "meas"}, "key": "m", "fields": ["M"]}}],
   "encoding": {
    "x": {"field": "t", "type": "quantitative", "scale": {"domain": [0.55, 10.45], "nice": false, "zero": false}, "axis": {"values": [1,2,3,4,5,6,7,8,9,10], "title": null, "labelExpr": "datum.value % 2 === 1 ? datum.label : ''", "labelOverlap": false, "tickOpacity": {"condition": {"test": "datum.value % 2 === 1", "value": 1}, "value": 0}, "gridWidth": {"condition": {"test": "datum.value % 2 === 1", "value": 1}, "value": 0.6}}},
    "y": {"field": "p", "type": "quantitative", "scale": {"domain": [58, 102], "nice": false, "zero": false}, "axis": {"values": [60,65,70,75,80,85,90,95,100], "title": null, "labels": false, "ticks": false, "gridWidth": {"condition": {"test": "datum.value % 10 === 0", "value": 1}, "value": 0.6}}},
    "color": {"field": "E", "type": "nominal", "scale": {"domain": ["12−15 new reported cases / 10,000 capita / year","8−12 new reported cases / 10,000 capita / year","2−8 new reported cases / 10,000 capita / year"], "range": ["#619CFF","#00BA38","#F8766D"]}, "legend": {"title": "Pre−control endemicity", "orient": "none", "legendX": 621, "legendY": -157, "direction": "vertical", "symbolType": "M-1,0H1M0.27,0A0.27,0.27,0,1,1,-0.27,0A0.27,0.27,0,1,1,0.27,0", "encode": {"symbols": {"update": {"fill": {"scale": "color", "field": "value"}}}}}}
   },
   "layer": [
    {"mark": {"type": "line", "clip": true, "strokeWidth": 1.8}, "encoding": {"strokeDash": {"field": "M", "type": "nominal", "scale": {"domain": ["PPV: new VL case if number of positives >= threshold","NPV: no new VL case if number of positives < threshold"], "range": [[1,0],[2,5]]}, "legend": {"title": "Predictive value", "orient": "none", "legendX": 109, "legendY": -157, "direction": "vertical", "symbolType": "stroke", "symbolStrokeColor": "black"}}}},
    {"transform": [{"filter": "datum.m === 'P'"}], "mark": {"type": "point", "filled": true, "clip": true, "size": 50, "opacity": 1}},
    {"transform": [{"filter": "datum.m === 'N'"}], "mark": {"type": "point", "filled": false, "clip": true, "size": 50, "strokeWidth": 1.2, "opacity": 1}}
   ]},
  {"hconcat": [
   {"width": 314, "height": 259,
    "transform": [{"filter": "datum.r === 'A' && datum.c === 3"},{"lookup": "e", "from": {"data": {"name": "endem"}, "key": "e", "fields": ["E"]}},{"lookup": "m", "from": {"data": {"name": "meas"}, "key": "m", "fields": ["M"]}}],
    "encoding": {
     "x": {"field": "t", "type": "quantitative", "scale": {"domain": [0.55, 10.45], "nice": false, "zero": false}, "axis": {"values": [1,2,3,4,5,6,7,8,9,10], "title": null, "labelExpr": "datum.value % 2 === 1 ? datum.label : ''", "labelOverlap": false, "tickOpacity": {"condition": {"test": "datum.value % 2 === 1", "value": 1}, "value": 0}, "gridWidth": {"condition": {"test": "datum.value % 2 === 1", "value": 1}, "value": 0.6}}},
     "y": {"field": "p", "type": "quantitative", "scale": {"domain": [58, 102], "nice": false, "zero": false}, "axis": {"values": [60,65,70,75,80,85,90,95,100], "title": null, "labels": false, "ticks": false, "gridWidth": {"condition": {"test": "datum.value % 10 === 0", "value": 1}, "value": 0.6}}},
     "color": {"field": "E", "type": "nominal", "scale": {"domain": ["12−15 new reported cases / 10,000 capita / year","8−12 new reported cases / 10,000 capita / year","2−8 new reported cases / 10,000 capita / year"], "range": ["#619CFF","#00BA38","#F8766D"]}, "legend": {"title": "Pre−control endemicity", "orient": "none", "legendX": 621, "legendY": -157, "direction": "vertical", "symbolType": "M-1,0H1M0.27,0A0.27,0.27,0,1,1,-0.27,0A0.27,0.27,0,1,1,0.27,0", "encode": {"symbols": {"update": {"fill": {"scale": "color", "field": "value"}}}}}}
    },
    "layer": [
     {"mark": {"type": "line", "clip": true, "strokeWidth": 1.8}, "encoding": {"strokeDash": {"field": "M", "type": "nominal", "scale": {"domain": ["PPV: new VL case if number of positives >= threshold","NPV: no new VL case if number of positives < threshold"], "range": [[1,0],[2,5]]}, "legend": {"title": "Predictive value", "orient": "none", "legendX": 109, "legendY": -157, "direction": "vertical", "symbolType": "stroke", "symbolStrokeColor": "black"}}}},
     {"transform": [{"filter": "datum.m === 'P'"}], "mark": {"type": "point", "filled": true, "clip": true, "size": 50, "opacity": 1}},
     {"transform": [{"filter": "datum.m === 'N'"}], "mark": {"type": "point", "filled": false, "clip": true, "size": 50, "strokeWidth": 1.2, "opacity": 1}}
    ]},
   {"data": {"name": "strips"}, "transform": [{"filter": "datum.k === 'r2'"}], "width": 29, "height": 259, "view": {"fill": "#B3B3B3", "stroke": "#B3B3B3", "strokeWidth": 1.2}, "mark": {"type": "text", "color": "white", "fontSize": 16.7, "font": "Liberation Sans", "angle": 90}, "encoding": {"text": {"field": "s"}}}
  ], "spacing": 0, "bounds": "flush"}
 ], "spacing": 11, "bounds": "flush"}
], "spacing": 11},
{"data": {"name": "strips"}, "transform": [{"filter": "datum.k === 'xt'"}], "width": 966, "height": 72, "view": {"stroke": null}, "mark": {"type": "text", "color": "black", "fontSize": 21, "font": "Liberation Sans"}, "encoding": {"text": {"field": "s"}}}
]}
],
"config": {
 "font": "Liberation Sans",
 "view": {"stroke": "#B3B3B3", "strokeWidth": 1.2},
 "axis": {"domain": false, "gridColor": "#DEDEDE", "tickColor": "#B3B3B3", "tickSize": 5, "tickWidth": 1, "labelColor": "#4D4D4D", "labelFontSize": 16.8, "labelFont": "Liberation Sans", "titleFont": "Liberation Sans", "titleFontSize": 21, "titleFontWeight": "normal", "titleColor": "black"},
 "axisX": {"labelPadding": 2},
 "axisY": {"labelPadding": 4},
 "legend": {"labelFont": "Liberation Sans", "labelFontSize": 17.3, "labelColor": "black", "titleFont": "Liberation Sans", "titleFontSize": 21, "titleFontWeight": "normal", "titleColor": "black", "labelLimit": 700, "titleLimit": 700, "symbolSize": 784, "symbolStrokeWidth": 1.8, "rowPadding": 9.5, "titlePadding": 8.5, "labelOffset": 13}
}
}
